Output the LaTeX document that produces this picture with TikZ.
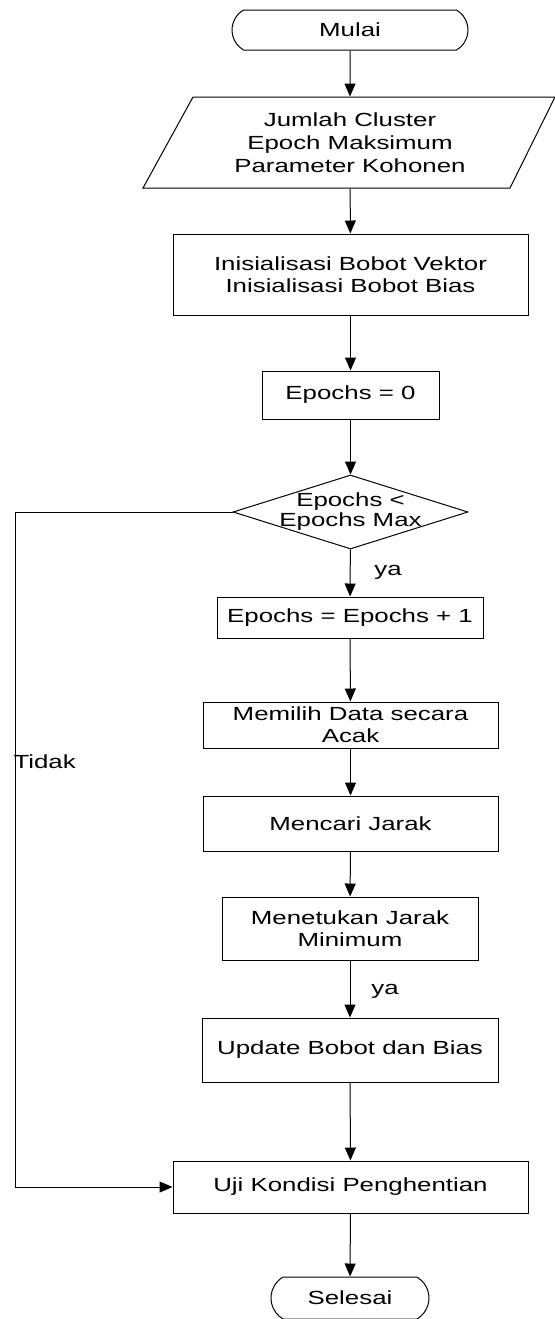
\documentclass[tikz,border=0pt]{standalone}
\usepackage{fontspec}
\setmainfont{Liberation Sans}[FakeStretch=1.36]
\usetikzlibrary{arrows.meta,shapes.geometric,shapes.misc}
\tikzset{
	kotak/.style={draw, rectangle, align=center, inner sep=0pt},
	terminal/.style={draw, rounded rectangle, rounded rectangle arc length=120, inner sep=0pt},
	keputusan/.style={draw, diamond, inner sep=0pt},
	panah/.style={-{Triangle[length=6.5pt,width=5.5pt]}}
}

\begin{document}
\begin{tikzpicture}[x=0.5pt, y=-0.5pt, line width=0.5pt, font=\fontsize{9.5}{11}\selectfont]
		%%%%% START %%%%%
		\useasboundingbox (0,0) rectangle (555,1319);
		
		\node[terminal, minimum width=118pt, minimum height=20pt] (mulai) at (350,30) {Mulai};
		
		\node[align=center, inner sep=0pt, minimum height=45.5pt, font=\fontsize{9.5}{11.5}\selectfont] (input) at (350,142.5) {Jumlah Cluster\\Epoch Maksimum\\Parameter Kohonen};
		\draw (193,97) -- (555,97) -- (510,188) -- (143,188) -- cycle;
		
		\node[kotak, minimum width=177.5pt, minimum height=40.5pt] (init) at (350.5,274.5) {Inisialisasi Bobot Vektor\\Inisialisasi Bobot Bias};
		\node[kotak, minimum width=88.5pt, minimum height=24pt] (epoch0) at (350.5,395) {Epochs = 0};
		
		\node[keputusan, minimum width=117.5pt, minimum height=37pt, label={[align=center, font=\fontsize{9.5}{10}\selectfont]center:Epochs <\\Epochs Max}] (cek) at (350.5,512) {};
		
		\node[kotak, minimum width=133pt, minimum height=20.5pt] (inc) at (350,617.5) {Epochs = Epochs + 1};
		\node[kotak, minimum width=147.5pt, minimum height=23pt] (pilih) at (350.5,725) {Memilih Data secara\\Acak};
		\node[kotak, minimum width=147.5pt, minimum height=27.5pt] (jarak) at (350.5,823.5) {Mencari Jarak};
		\node[kotak, minimum width=128pt, minimum height=31.5pt] (minimum) at (350,928.5) {Menetukan Jarak\\Minimum};
		\node[kotak, minimum width=148pt, minimum height=32pt] (update) at (350,1050) {Update Bobot dan Bias};
		\node[kotak, minimum width=177.5pt, minimum height=26pt] (uji) at (350.5,1187) {Uji Kondisi Penghentian};
		
		\node[terminal, minimum width=79pt, minimum height=21pt] (selesai) at (350,1298) {Selesai};
		
		\draw[panah] (mulai) -- (input);
		\draw[panah] (input) -- (init);
		\draw[panah] (init) -- (epoch0);
		\draw[panah] (epoch0) -- (cek);
		\draw[panah] (cek) -- (inc);
		\draw[panah] (inc) -- (pilih);
		\draw[panah] (pilih) -- (jarak);
		\draw[panah] (jarak) -- (minimum);
		\draw[panah] (minimum) -- (update);
		\draw[panah] (update) -- (uji);
		\draw[panah] (uji) -- (selesai);
		
		\coordinate (belok) at (15,512);
		\draw[panah] (cek.west) -- (belok) |- (uji.west);
		
		\node (ya1) at (388,572) {ya};
		\node (ya2) at (385,991) {ya};
		\node[anchor=west, inner sep=0pt] (tidak) at (13,762) {Tidak};
		%%%%% END %%%%%
	\end{tikzpicture}
\end{document}
